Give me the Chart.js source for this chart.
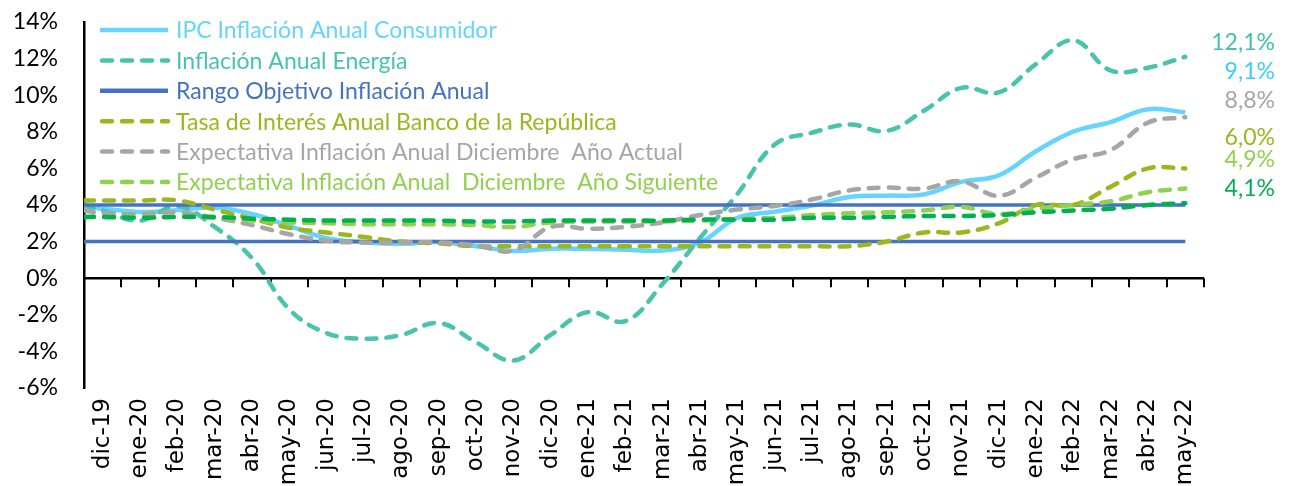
<!DOCTYPE html>
<html>
<head>
<meta charset="utf-8">
<script src="https://cdn.jsdelivr.net/npm/chart.js@4.4.1/dist/chart.umd.min.js"></script>
<style>
html,body{margin:0;padding:0;background:#fff;overflow:hidden}
#wrap{width:1290px;height:486px;position:relative}
</style>
</head>
<body>
<div id="wrap"><canvas id="c" width="1290" height="486"></canvas></div>
<script>
// ---- DATA ----
const CATEGORIES = ['dic-19','ene-20','feb-20','mar-20','abr-20','may-20','jun-20','jul-20','ago-20','sep-20','oct-20','nov-20','dic-20','ene-21','feb-21','mar-21','abr-21','may-21','jun-21','jul-21','ago-21','sep-21','oct-21','nov-21','dic-21','ene-22','feb-22','mar-22','abr-22','may-22'];
const Y_TICKS = [-6,-4,-2,0,2,4,6,8,10,12,14];
// first value = value at the left edge of the axis, then one value per month (dic-19 .. may-22)
const IPC = [3.9, 3.80, 3.62, 3.72, 3.86, 3.51, 2.85, 2.19, 1.97, 1.88, 1.97, 1.75, 1.49, 1.61, 1.60, 1.56, 1.51, 1.95, 3.30, 3.63, 3.97, 4.44, 4.51, 4.58, 5.26, 5.62, 6.94, 8.01, 8.53, 9.23, 9.07];
const ENERGIA = [4.0, 3.7, 3.15, 3.95, 2.8, 1.1, -1.7, -3.0, -3.3, -3.1, -2.45, -3.5, -4.5, -3.1, -1.85, -2.35, -0.3, 2.2, 4.6, 7.3, 7.95, 8.4, 8.05, 9.15, 10.4, 10.15, 11.7, 13.0, 11.35, 11.5, 12.1];
const RANGO_SUP = [4,4,4,4,4,4,4,4,4,4,4,4,4,4,4,4,4,4,4,4,4,4,4,4,4,4,4,4,4,4,4];
const RANGO_INF = [2,2,2,2,2,2,2,2,2,2,2,2,2,2,2,2,2,2,2,2,2,2,2,2,2,2,2,2,2,2,2];
const TASA = [4.25, 4.25, 4.25, 4.25, 3.75, 3.25, 2.75, 2.5, 2.25, 2.0, 1.9, 1.75, 1.75, 1.75, 1.75, 1.75, 1.75, 1.75, 1.75, 1.75, 1.75, 1.75, 2.0, 2.5, 2.5, 3.0, 4.0, 4.0, 5.0, 6.0, 6.0];
const EXP_ACTUAL = [3.7, 3.55, 3.5, 3.6, 3.3, 2.9, 2.4, 2.05, 1.95, 1.95, 1.95, 1.8, 1.5, 2.8, 2.7, 2.8, 3.05, 3.45, 3.75, 3.95, 4.3, 4.8, 4.95, 4.9, 5.3, 4.5, 5.5, 6.5, 7.0, 8.5, 8.8];
const EXP_SIGUIENTE = [3.35, 3.35, 3.35, 3.35, 3.3, 3.15, 3.05, 3.0, 2.95, 2.95, 2.95, 2.9, 2.8, 3.05, 3.1, 3.1, 3.1, 3.15, 3.25, 3.3, 3.45, 3.55, 3.6, 3.7, 3.9, 3.5, 3.8, 4.0, 4.2, 4.7, 4.9];
const OTRA = [3.35, 3.35, 3.3, 3.35, 3.35, 3.25, 3.2, 3.15, 3.15, 3.15, 3.15, 3.1, 3.1, 3.15, 3.15, 3.15, 3.15, 3.2, 3.2, 3.2, 3.3, 3.3, 3.35, 3.4, 3.4, 3.45, 3.6, 3.7, 3.8, 4.0, 4.1];
const LEGEND_LABELS = ['IPC Inflación Anual Consumidor','Inflación Anual Energía','Rango Objetivo Inflación Anual','Tasa de Interés Anual Banco de la República','Expectativa Inflación Anual Diciembre  Año Actual','Expectativa Inflación Anual  Diciembre  Año Siguiente'];
// vertical placement (in % units) of the end-value labels on the right
const END_LABEL_POS = [12.9, 11.3, 9.7, 7.7, 6.5, 4.9];

// ---- STYLE ----
const C_IPC = '#66D4FC', C_ENE = '#48C3AD', C_RANGO = '#4472C4', C_TASA = '#9CB61F', C_GRIS = '#A6A6A6', C_VSIG = '#92D050', C_OTRA = '#00B050';
const FAMILY = "Lato, 'Open Sans', sans-serif";
const XFAMILY = "'DejaVu Sans', Verdana, sans-serif";

const cv = document.getElementById('c');
const mctx = cv.getContext('2d');
mctx.font = '25px ' + FAMILY;
let FS = 25 * 321 / mctx.measureText(LEGEND_LABELS[0]).width;
FS = Math.max(18, Math.min(27, FS));

function pts(arr) { return arr.map((v, i) => ({ x: i === 0 ? 0 : i - 0.5, y: v })); }
const DASH = [10, 10];
function ds(label, data, color, dashed, width) {
  return {
    label, data: pts(data), borderColor: color, backgroundColor: color,
    borderWidth: width || 4, borderDash: dashed ? DASH : [], borderCapStyle: dashed ? 'round' : 'butt',
    pointRadius: 0, tension: 0.4, fill: false, xAxisID: 'x', yAxisID: 'y'
  };
}

const datasets = [
  ds('otra', OTRA, C_OTRA, true, 4.5),
  ds('sig', EXP_SIGUIENTE, C_VSIG, true, 4.5),
  ds('act', EXP_ACTUAL, C_GRIS, true, 4.5),
  ds('tasa', TASA, C_TASA, true, 4.5),
  ds('rinf', RANGO_INF, C_RANGO, false, 3.5),
  ds('rsup', RANGO_SUP, C_RANGO, false, 3.5),
  ds('ene', ENERGIA, C_ENE, true, 4.5),
  ds('ipc', IPC, C_IPC, false, 4.5)
];

const legendItems = [
  { text: LEGEND_LABELS[0], color: C_IPC, dash: false },
  { text: LEGEND_LABELS[1], color: C_ENE, dash: true },
  { text: LEGEND_LABELS[2], color: C_RANGO, dash: false },
  { text: LEGEND_LABELS[3], color: C_TASA, dash: true },
  { text: LEGEND_LABELS[4], color: C_GRIS, dash: true },
  { text: LEGEND_LABELS[5], color: C_VSIG, dash: true }
];

function fmt(v) { return v.toFixed(1).replace('.', ',') + '%'; }
const endLabels = [
  { v: ENERGIA[ENERGIA.length - 1], color: '#45C1AA' },
  { v: IPC[IPC.length - 1], color: '#3CCBFA' },
  { v: EXP_ACTUAL[EXP_ACTUAL.length - 1], color: C_GRIS },
  { v: TASA[TASA.length - 1], color: C_TASA },
  { v: EXP_SIGUIENTE[EXP_SIGUIENTE.length - 1], color: C_VSIG },
  { v: OTRA[OTRA.length - 1], color: C_OTRA }
];

const zeroAxis = {
  id: 'zeroAxis',
  beforeDatasetsDraw(chart) {
    const { ctx, chartArea, scales } = chart;
    const y0 = scales.y.getPixelForValue(0);
    ctx.save();
    ctx.strokeStyle = '#000';
    ctx.lineWidth = 2.5;
    ctx.beginPath();
    ctx.moveTo(chartArea.left, y0);
    ctx.lineTo(chartArea.right, y0);
    ctx.stroke();
    ctx.lineWidth = 2;
    for (let k = 0; k <= CATEGORIES.length; k++) {
      const x = Math.round(scales.x.getPixelForValue(k));
      ctx.beginPath();
      ctx.moveTo(x, y0);
      ctx.lineTo(x, y0 + 9);
      ctx.stroke();
    }
    ctx.restore();
  }
};

const overlay = {
  id: 'overlay',
  afterDraw(chart) {
    const { ctx, chartArea, scales } = chart;
    ctx.save();
    ctx.font = FS + 'px ' + FAMILY;
    ctx.textBaseline = 'middle';
    // legend
    const lx0 = chartArea.left + 16, lx1 = chartArea.left + 84, tx = chartArea.left + 92;
    legendItems.forEach((it, i) => {
      const y = 30 + i * 30.4;
      ctx.strokeStyle = it.color;
      ctx.lineWidth = 4.5;
      ctx.lineCap = it.dash ? 'round' : 'butt';
      ctx.setLineDash(it.dash ? DASH : []);
      ctx.beginPath();
      ctx.moveTo(lx0 + (it.dash ? 2 : 0), y);
      ctx.lineTo(lx1, y);
      ctx.stroke();
      ctx.setLineDash([]);
      ctx.fillStyle = it.color;
      ctx.textAlign = 'left';
      ctx.fillText(it.text, tx, y + 1);
    });
    // end labels
    ctx.textAlign = 'right';
    endLabels.forEach((l, i) => {
      ctx.fillStyle = l.color;
      ctx.fillText(fmt(l.v), chartArea.right + 71, scales.y.getPixelForValue(END_LABEL_POS[i]));
    });
    ctx.restore();
  }
};

new Chart(cv, {
  type: 'line',
  data: { datasets },
  options: {
    responsive: false,
    animation: false,
    devicePixelRatio: 1,
    layout: { padding: { top: 22, right: 86, left: 0, bottom: 0 } },
    plugins: { legend: { display: false }, tooltip: { enabled: false } },
    scales: {
      x: { type: 'linear', min: 0, max: CATEGORIES.length, display: false },
      xc: {
        type: 'category', labels: CATEGORIES, position: 'bottom', offset: true,
        grid: { display: false, drawTicks: false, offset: true },
        border: { display: false },
        ticks: {
          autoSkip: false, maxRotation: 90, minRotation: 90, padding: 10,
          color: '#000', font: { family: XFAMILY, size: 23 }
        },
        afterFit(s) { s.height = 98; }
      },
      y: {
        type: 'linear', position: 'left', min: -6, max: 14,
        afterBuildTicks(s) { s.ticks = Y_TICKS.map(v => ({ value: v })); },
        grid: { display: true, drawOnChartArea: false, drawTicks: true, tickLength: 24, tickColor: 'rgba(0,0,0,0)', color: 'rgba(0,0,0,0)' },
        border: { display: true, color: '#000', width: 2.5 },
        ticks: {
          padding: 2, color: '#000', font: { family: FAMILY, size: FS },
          callback: v => v + '%'
        },
        afterFit(s) { s.width = 84; }
      }
    }
  },
  plugins: [zeroAxis, overlay]
});
</script>
</body>
</html>
